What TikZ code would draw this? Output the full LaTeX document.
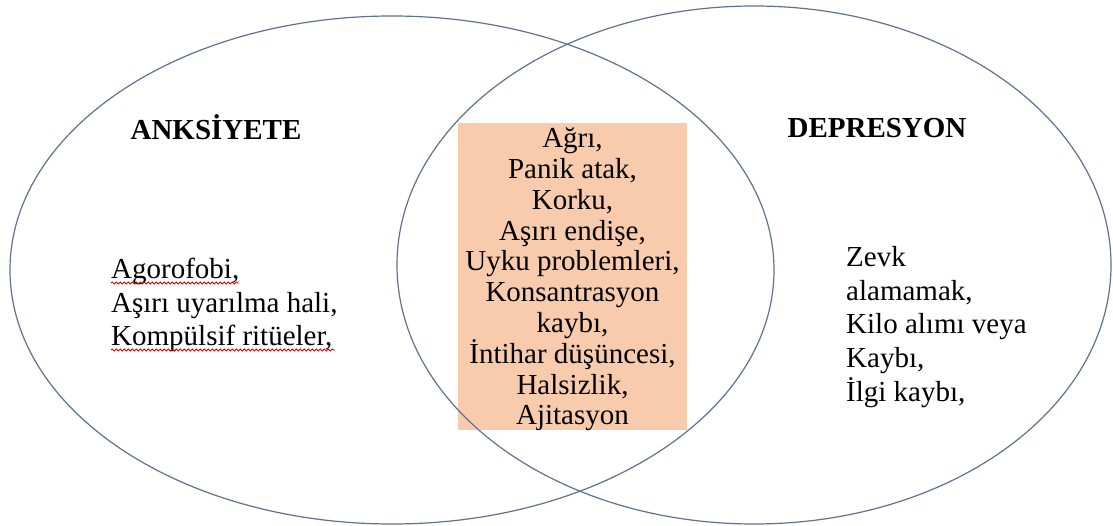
\documentclass[tikz,border=0pt]{standalone}
\usepackage{fontspec}
\setmainfont{Liberation Serif}
\usetikzlibrary{decorations.pathmorphing}
\definecolor{venncizgi}{RGB}{95,115,140}
\definecolor{ortak}{RGB}{248,203,173}

\begin{document}
\begin{tikzpicture}[x=1pt,y=-1pt,
		venn/.style={draw=venncizgi, line width=1.2pt},
		metin/.style={font=\fontsize{29}{33.6}\selectfont, inner sep=0pt},
		kutumetin/.style={font=\fontsize{29}{30.8}\selectfont, inner sep=0pt},
		baslik/.style={font=\fontsize{29}{30.5}\selectfont\bfseries, inner sep=0pt},
		imla/.style={draw=red!85!black, line width=0.8pt, decorate, decoration={snake, amplitude=1.1pt, segment length=4pt}}]
	\useasboundingbox (0,0) rectangle (1113,526);
	\fill[white] (0,0) rectangle (1113,526);
	
	% ortak belirtiler kutusu
	\node[fill=ortak, minimum width=229pt, minimum height=307pt, inner sep=0pt] (kutu) at (572.5,276.5) {};
	
	\draw[venn] (392,270) ellipse [x radius=382pt, y radius=254pt];
	\draw[venn] (754,265) ellipse [x radius=357pt, y radius=259pt];
	
	\node[baslik] (anksiyete) at (216,127) {ANKSİYETE};
	\node[baslik] (depresyon) at (877,128) {DEPRESYON};
	
	\node[kutumetin, align=center] (ortakmetin) at (572.5,279.5) {Ağrı,\\Panik atak,\\Korku,\\Aşırı endişe,\\Uyku problemleri,\\Konsantrasyon\\kaybı,\\İntihar düşüncesi,\\Halsizlik,\\Ajitasyon};
	
	\node[metin, align=left, anchor=west] (sol) at (111,305) {Agorofobi,\\Aşırı uyarılma hali,\\Kompülsif ritüeler,};
	\node[metin, align=left, anchor=west] (sag) at (846,327) {Zevk\\alamamak,\\Kilo alımı veya\\Kaybı,\\İlgi kaybı,};
	
	% kelime denetimi alt cizgileri
	\draw[imla] (111,283) -- (239,283);
	\draw[imla] (111,350) -- (335,350);
\end{tikzpicture}
\end{document}
